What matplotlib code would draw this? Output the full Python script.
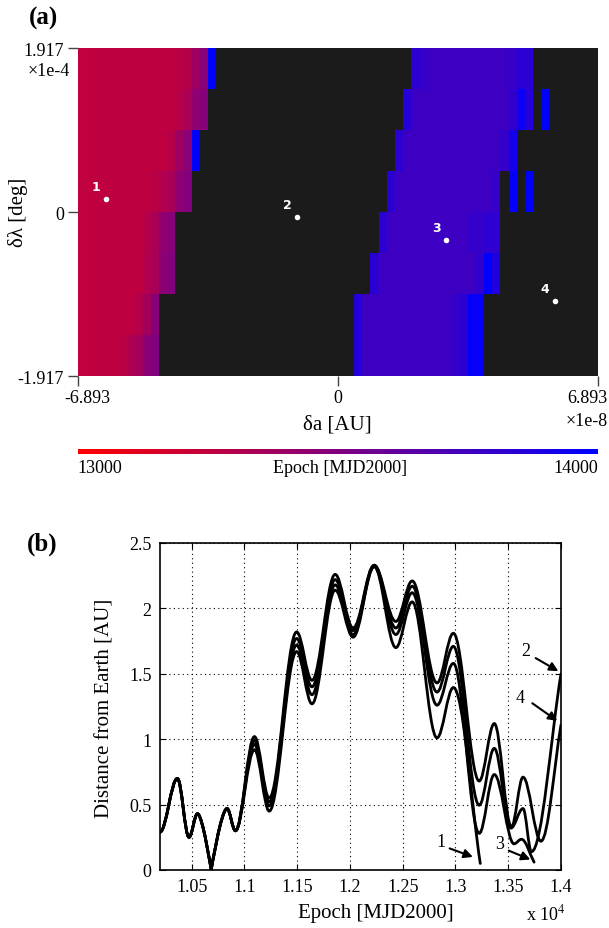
import numpy as np
import matplotlib
matplotlib.use("Agg")
import matplotlib.pyplot as plt
from matplotlib.colors import LinearSegmentedColormap
from matplotlib.path import Path
from matplotlib.patches import PathPatch

plt.rcParams['font.family'] = ['Liberation Serif', 'DejaVu Serif']
plt.rcParams['mathtext.fontset'] = 'stix'

# ---- (a) epoch map over the (da, dlambda) grid; None = no solution ----
# each row is run-length coded as (number of columns, epoch), top row first
row_runs = [
    [(2, 13245), (10, 13250), (1, 13270), (1, 13290), (1, 13380), (1, 13460), (1, 14000),
     (24, None), (1, 13830), (1, 13790), (10, 13760), (1, 13790), (2, 13830), (8, None)],
    [(2, 13245), (10, 13250), (1, 13280), (1, 13340), (1, 13440), (1, 13480),
     (24, None), (1, 13850), (12, 13760), (1, 13800), (1, 13960), (1, 13850),
     (1, None), (1, 14000), (6, None)],
    [(2, 13245), (9, 13250), (1, 13290), (1, 13380), (1, 13460), (1, 14000),
     (24, None), (1, 13830), (12, 13760), (1, 13790), (1, 13920), (10, None)],
    [(2, 13245), (7, 13250), (1, 13280), (1, 13310), (1, 13340), (1, 13440), (1, 13490),
     (24, None), (1, 13830), (12, 13760), (1, 13790),
     (1, None), (1, 13980), (1, None), (1, 14000), (8, None)],
    [(2, 13245), (6, 13250), (1, 13290), (1, 13340), (1, 13430), (1, 13480),
     (25, None), (1, 13830), (10, 13760), (2, 13790), (2, 13820), (12, None)],
    [(2, 13245), (6, 13250), (1, 13300), (1, 13350), (1, 13450), (1, 13490),
     (24, None), (1, 13830), (12, 13760), (1, 13800), (1, 14000), (1, 13880), (12, None)],
    [(2, 13245), (5, 13250), (1, 13300), (1, 13360), (1, 13470),
     (24, None), (1, 13860), (11, 13760), (1, 13790), (1, 13830), (2, 13970), (14, None)],
    [(2, 13245), (3, 13250), (1, 13280), (1, 13320), (1, 13370), (1, 13460), (1, 13500),
     (24, None), (1, 13860), (11, 13760), (1, 13790), (1, 13830), (2, 13970), (14, None)],
]
da_lim = 6.893      # x 1e-8 AU
dl_lim = 1.917      # x 1e-4 deg
pt_da = [-6.151, -1.087, 2.863, 5.753]
pt_dl = [0.152, -0.058, -0.327, -1.040]
pt_names = ['1', '2', '3', '4']

# ---- (b) distance from Earth; extrema of the trajectories ----
shared_epoch = [1.0200, 1.0365, 1.0475, 1.0555, 1.0685, 1.0835, 1.0915]
shared_dist = [0.29, 0.70, 0.25, 0.43, 0.00, 0.47, 0.30]
fan_epoch = [1.1095, 1.1235, 1.1495, 1.1640, 1.1860, 1.2030, 1.2230, 1.2435, 1.2590, 1.2825, 1.2980]
fan_dist_4 = [1.02, 0.55, 1.82, 1.45, 2.26, 1.85, 2.33, 1.90, 2.21, 1.43, 1.81]
fan_dist_2 = [0.99, 0.52, 1.77, 1.40, 2.22, 1.83, 2.33, 1.85, 2.17, 1.36, 1.71]
fan_dist_3 = [0.96, 0.49, 1.72, 1.34, 2.18, 1.80, 2.32, 1.80, 2.12, 1.26, 1.58]
fan_dist_1 = [0.92, 0.45, 1.67, 1.27, 2.14, 1.78, 2.32, 1.70, 2.05, 1.01, 1.395]
tail_epoch_4 = [1.3225, 1.3368, 1.3530, 1.3640, 1.3810, 1.4000]
tail_dist_4 = [0.68, 1.12, 0.33, 0.71, 0.22, 1.11]
tail_epoch_2 = [1.3225, 1.3368, 1.3525, 1.3640, 1.3720, 1.4000]
tail_dist_2 = [0.495, 0.93, 0.32, 0.47, 0.14, 1.50]
tail_epoch_3 = [1.3225, 1.3368, 1.3555, 1.3625, 1.3745]
tail_dist_3 = [0.28, 0.73, 0.20, 0.235, 0.06]
tail_epoch_1 = [1.3235]
tail_dist_1 = [0.05]

W, H = 609, 929
fig = plt.figure(figsize=(W / 100, H / 100), dpi=100)


def box(l, t, r, b):
    return [l / W, 1 - b / H, (r - l) / W, (b - t) / H]


def ftext(x, y, s, **kw):
    kw.setdefault('ha', 'center')
    kw.setdefault('va', 'center')
    fig.text(x / W, 1 - y / H, s, **kw)


cmap = LinearSegmentedColormap.from_list('red_blue', ['#ff0000', '#0000ff'])
cmap.set_bad('#1b1b1b')

grid = np.array([[np.nan if v is None else v for n, v in row for _ in range(n)]
                 for row in row_runs], dtype=float)

ax = fig.add_axes(box(78, 49, 598, 377))
ax.imshow(np.ma.masked_invalid(grid), cmap=cmap, vmin=13000, vmax=14000,
          extent=[-da_lim, da_lim, -dl_lim, dl_lim], aspect='auto',
          interpolation='nearest')
ax.plot(pt_da, pt_dl, 'o', color='white', ms=4, mec='none')
for x, y, s in zip(pt_da, pt_dl, pt_names):
    ax.annotate(s, (x, y), xytext=(-7, 4), textcoords='offset points',
                color='white', fontsize=9, fontweight='bold',
                family='DejaVu Sans', ha='center', va='bottom')
ax.set_xlim(-da_lim, da_lim)
ax.set_ylim(-dl_lim, dl_lim)
ax.set_xticks([-da_lim, 0, da_lim], ['', '', ''])
ax.set_yticks([-dl_lim, 0, dl_lim], ['-1.917', '0', '1.917'])
ax.tick_params(direction='out', length=7, width=1, color='#444444',
               labelsize=13, pad=3)
for sp in ax.spines.values():
    sp.set_visible(False)
ftext(87, 399, '-6.893', fontsize=13)
ftext(338, 399, '0', fontsize=13)
ftext(587, 399, '6.893', fontsize=13)
ftext(70, 72, '\u00d71e-4', fontsize=13, ha='right')
ftext(587, 422, '\u00d71e-8', fontsize=13)
ftext(337, 425, '\u03b4a [AU]', fontsize=15)
ftext(18, 212, '\u03b4\u03bb [deg]', fontsize=15, rotation=90)
ftext(43, 18, '(a)', fontsize=18, fontweight='bold')

# colour bar
cax = fig.add_axes(box(78, 450, 598, 455))
cb = matplotlib.colorbar.ColorbarBase(cax, cmap=cmap, orientation='horizontal',
                                      norm=matplotlib.colors.Normalize(13000, 14000))
cb.outline.set_visible(False)
cax.set_xticks([])
ftext(100, 469, '13000', fontsize=13)
ftext(340, 469, 'Epoch [MJD2000]', fontsize=13)
ftext(576, 469, '14000', fontsize=13)


def smooth_path(xs, ys, sharp=()):
    # cubic Bezier pieces with flat tangents at the extrema
    k = 0.3634
    verts = [(xs[0], ys[0])]
    codes = [Path.MOVETO]
    last = len(xs) - 1
    for i in range(last):
        x0, y0, x1, y1 = xs[i], ys[i], xs[i + 1], ys[i + 1]
        dx = x1 - x0
        k0 = 0.0 if i in sharp else k
        k1 = 0.0 if (i + 1) in sharp else k
        if i + 1 == last:
            c1 = (x1 - dx / 3, y1 - (y1 - y0) / 3)
        else:
            c1 = (x1 - k1 * dx, y1)
        verts += [(x0 + k0 * dx, y0), c1, (x1, y1)]
        codes += [Path.CURVE4] * 3
    return Path(verts, codes)


ax2 = fig.add_axes(box(160, 544, 561, 871))
curves = [
    (fan_dist_4, tail_epoch_4, tail_dist_4),
    (fan_dist_2, tail_epoch_2, tail_dist_2),
    (fan_dist_3, tail_epoch_3, tail_dist_3),
    (fan_dist_1, tail_epoch_1, tail_dist_1),
]
for fan_d, t_e, t_d in curves:
    xs = shared_epoch + fan_epoch + t_e
    ys = shared_dist + fan_d + t_d
    ax2.add_patch(PathPatch(smooth_path(xs, ys, sharp=(4,)), fc='none',
                            ec='black', lw=2.0, capstyle='round', joinstyle='round'))

ax2.set_xlim(1.02, 1.4)
ax2.set_ylim(0, 2.5)
ax2.set_xticks([1.05, 1.1, 1.15, 1.2, 1.25, 1.3, 1.35, 1.4],
               ['1.05', '1.1', '1.15', '1.2', '1.25', '1.3', '1.35', '1.4'])
ax2.set_yticks([0, 0.5, 1, 1.5, 2, 2.5], ['0', '0.5', '1', '1.5', '2', '2.5'])
ax2.grid(True, color='black', linestyle=(0, (1, 3)), linewidth=0.8)
ax2.tick_params(direction='in', length=4, top=True, right=True, labelsize=13, pad=6)
for sp in ax2.spines.values():
    sp.set_linewidth(1.2)

arrow = dict(arrowstyle='-|>', color='black', lw=1.5, mutation_scale=13,
             shrinkA=0, shrinkB=0)
ann = [('2', (1.3663, 1.68), (1.3760, 1.62), (1.3975, 1.52)),
       ('4', (1.3615, 1.32), (1.3728, 1.275), (1.3965, 1.14)),
       ('1', (1.2862, 0.22), (1.2945, 0.165), (1.3165, 0.10)),
       ('3', (1.3423, 0.20), (1.3505, 0.148), (1.3710, 0.080))]
for s, txy, a0, a1 in ann:
    ax2.text(txy[0], txy[1], s, fontsize=13, ha='center', va='center')
    ax2.annotate('', xy=a1, xytext=a0, arrowprops=arrow)

ftext(376, 914, 'Epoch [MJD2000]', fontsize=15)
ftext(546, 914, r'x 10$^{4}$', fontsize=13)
ftext(105, 708, 'Distance from Earth [AU]', fontsize=15, rotation=90)
ftext(42, 544, '(b)', fontsize=18, fontweight='bold')

fig.savefig('out.png', dpi=100)
